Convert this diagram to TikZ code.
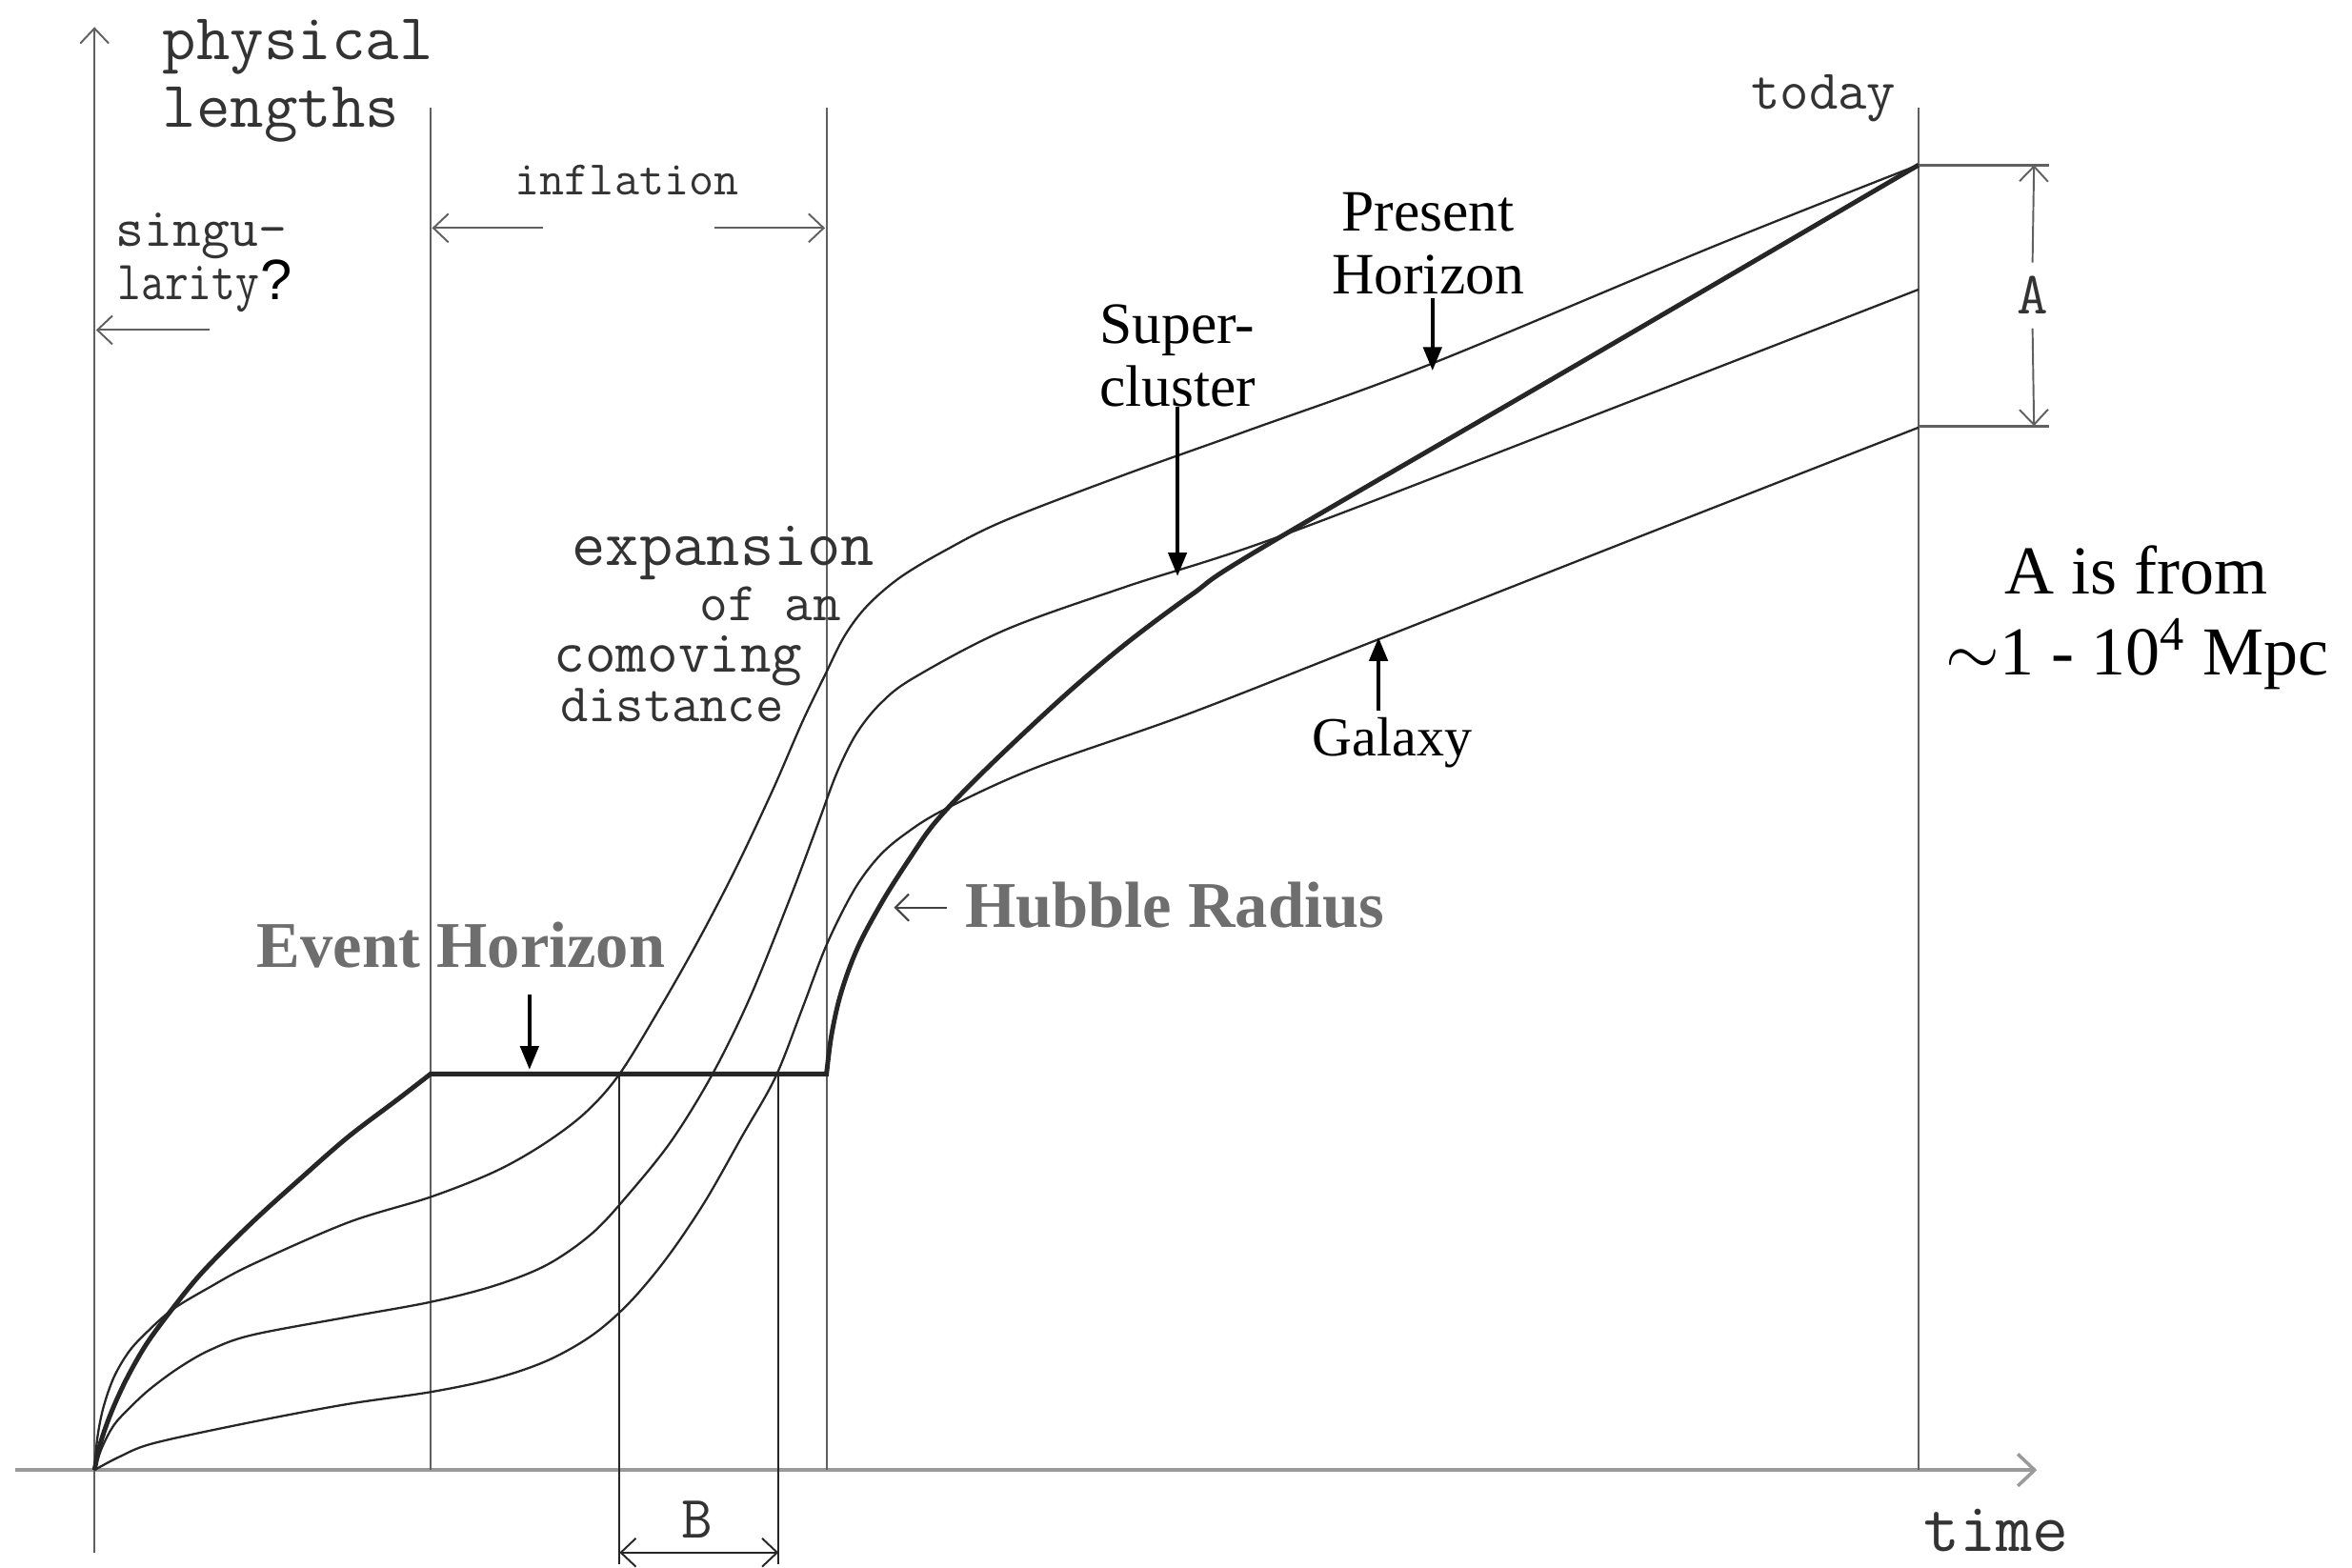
\documentclass[tikz,border=0pt]{standalone}
\usepackage{fontspec}
\newfontfamily\annfont{Liberation Serif}
\newfontfamily\qfont{Liberation Sans}
\usetikzlibrary{arrows.meta}
\definecolor{origtext}{HTML}{333333}
\definecolor{curvecol}{HTML}{262626}
\definecolor{vlinecol}{HTML}{606060}
\definecolor{axisgrey}{HTML}{9A9A9A}
\definecolor{labgrey}{HTML}{6E6E6E}
\newcommand\ttfs[1]{\ttfamily\fontsize{#1}{#1}\selectfont}
\newcommand\anfs[1]{\annfont\fontsize{#1}{#1}\selectfont}
\begin{document}
\begin{tikzpicture}[x=0.015746cm,y=-0.015746cm,
  vline/.style={draw=vlinecol, line width=0.55pt},
  bline/.style={draw=curvecol, line width=0.55pt},
  xaxis/.style={draw=axisgrey, line width=1.3pt},
  barb/.style={-{Straight Barb[length=4.5pt,width=8.5pt]}},
  dbarb/.style={{Straight Barb[length=4.5pt,width=8.5pt]}-{Straight Barb[length=4.5pt,width=8.5pt]}},
  thincurve/.style={draw=curvecol, line width=0.65pt},
  thickcurve/.style={draw=curvecol, line width=1.4pt, line join=miter},
  brk/.style={draw=vlinecol, line width=0.9pt},
  annarrow/.style={draw=black, line width=1pt, -{Triangle[length=7pt,width=5.5pt]}},
  orig/.style={text=origtext, inner sep=0pt},
  ann/.style={text=black, inner sep=0pt},
  boldlab/.style={text=labgrey, inner sep=0pt, font=\annfont\bfseries\fontsize{19.5}{20}\selectfont},
]
\useasboundingbox (0,0) rectangle (1568,1045);

% ---- coordinates
\coordinate (O) at (63,980);
\coordinate (ybot) at (63,1035);
\coordinate (ytop) at (63,18);
\coordinate (xleft) at (10,980);
\coordinate (xright) at (1358,980);
\coordinate (v1t) at (287,72);  \coordinate (v1b) at (287,980);
\coordinate (v2t) at (551,72);  \coordinate (v2b) at (551,980);
\coordinate (v3t) at (1279,72); \coordinate (v3b) at (1279,980);
\coordinate (Bl) at (413,716);  \coordinate (Blb) at (413,1043);
\coordinate (Br) at (519,716);  \coordinate (Brb) at (519,1043);
\coordinate (BarL) at (413,1035); \coordinate (BarR) at (519,1035);
\coordinate (Ae1) at (1279,110); \coordinate (Ae1r) at (1366,110);
\coordinate (Ae2) at (1279,284); \coordinate (Ae2r) at (1366,284);
\coordinate (Atop) at (1356,110); \coordinate (Abot) at (1356,284);
\coordinate (infLs) at (362,152); \coordinate (infLe) at (288,152);
\coordinate (infRs) at (476,152); \coordinate (infRe) at (550,152);
\coordinate (sgs) at (140,220); \coordinate (sge) at (64,220);

% ---- axes and epoch lines
\draw[xaxis, -{Straight Barb[length=5pt,width=9.5pt,line width=1pt]}] (xleft) -- (xright);
\draw[vline, barb] (ybot) -- (ytop);
\draw[vline] (v1t) -- (v1b);
\draw[vline] (v2t) -- (v2b);
\draw[vline] (v3t) -- (v3b);
\draw[bline] (Bl) -- (Blb);
\draw[bline] (Br) -- (Brb);
\draw[bline, dbarb] (BarL) -- (BarR);

% ---- comoving curves
\draw[thincurve] plot[smooth, tension=0.55] coordinates {
 (63,980) (65,958) (69,938) (76,918) (86,901) (98,888) (115,873) (140,858)
 (168,843) (232,815) (287,798) (330,781) (362,763) (390,742) (413,716)
 (440,672) (465,628) (490,580) (515,527) (535,481) (550,450) (563,424)
 (578,404) (600,385) (630,367) (670,347) (751,316) (832,287) (953,243)
 (1143,164) (1279,110)};
\draw[thincurve] plot[smooth, tension=0.55] coordinates {
 (63,980) (68,965) (76,950) (87,938) (100,926) (119,912) (140,900) (168,890)
 (232,878) (287,868) (330,857) (365,843) (395,822) (420,795) (448,760)
 (475,716) (500,665) (527,598) (545,550) (558,515) (571,489) (587,469)
 (609,452) (670,420) (751,391) (852,358) (1060,278) (1279,193)};
\draw[thincurve] plot[smooth, tension=0.55] coordinates {
 (63,980) (80,971) (103,962) (168,948) (232,936) (287,928) (330,919)
 (365,907) (395,890) (420,868) (445,838) (470,801) (495,757) (517,718)
 (535,672) (551,630) (569,594) (585,572) (602,557) (629,540) (690,512)
 (792,476) (917,427) (1100,355) (1279,285)};

% ---- event horizon + Hubble radius
\draw[thickcurve] plot[smooth, tension=0.55] coordinates {
 (63,980) (67,962) (74,942) (84,920) (97,897) (113,875) (135,848) (168,815)
 (200,786) (232,758) (265,733) (287,716)}
 -- plot[smooth, tension=0.55] coordinates {
 (551,716) (554,692) (559,668) (566,646) (575,625) (590,598) (606,573)
 (622,550) (645,525) (678,493) (715,459) (752,428) (795,396) (840,366)
 (1060,238) (1279,110)};

% ---- A bracket
\draw[brk] (Ae1) -- (Ae1r);
\draw[brk] (Ae2) -- (Ae2r);
\node[orig, font=\ttfs{18}, inner ysep=4pt] (Alab) at (1355,197) {A};
\draw[vline, barb] (Alab.north) -- (Atop);
\draw[vline, barb] (Alab.south) -- (Abot);

% ---- original labels
\node[orig, font=\ttfs{19.6}, anchor=base west] (phys) at (108,40) {physical};
\node[orig, font=\ttfs{19.6}, anchor=base west] (lens) at (108,85) {lengths};
\node[orig, font=\ttfs{14.4}, anchor=base west] (infl) at (343,130) {inflation};
\draw[vline, barb] (infLs) -- (infLe);
\draw[vline, barb] (infRs) -- (infRe);
\node[orig, font=\ttfs{16.5}, anchor=base west] (sing) at (77,164) {singu–};
\node[orig, font=\ttfs{16.5}, anchor=base west] (lar) at (78,200) {\scalebox{0.83}[1]{larity}};
\node[ann, font=\qfont\fontsize{17}{17}\selectfont, anchor=base west] (qm) at (lar.base east) {?};
\draw[vline, barb] (sgs) -- (sge);
\node[orig, font=\ttfs{16.8}, anchor=base west] (today) at (1167,73) {today};
\node[orig, font=\ttfs{21}, anchor=base west] (time) at (1282,1034) {time};
\node[orig, font=\ttfs{18}] (Blab) at (465,1013) {B};
\node[orig, font=\ttfs{19.5}, anchor=base west] (exp1) at (381,377) {expansion};
\node[orig, font=\ttfs{16.4}, anchor=base west] (exp2) at (466,414) {of an};
\node[orig, font=\ttfs{18}, anchor=base west] (exp3) at (369,448) {comoving};
\node[orig, font=\ttfs{16.2}, anchor=base west] (exp4) at (373,481) {distance};

% ---- annotations
\node[ann, font=\anfs{17.5}, anchor=base] (pres1) at (952,154) {Present};
\node[ann, font=\anfs{17.5}, anchor=base] (pres2) at (952,196) {Horizon};
\coordinate (phs) at (955,199); \coordinate (phe) at (955,247);
\draw[annarrow] (phs) -- (phe);
\node[ann, font=\anfs{17.5}, anchor=base] (sup1) at (785,229) {Super-};
\node[ann, font=\anfs{17.5}, anchor=base] (sup2) at (785,271) {cluster};
\coordinate (scs) at (785,271); \coordinate (sce) at (785,384);
\draw[annarrow] (scs) -- (sce);
\node[ann, font=\anfs{16.5}, anchor=base] (gal) at (928,504) {Galaxy};
\coordinate (gas) at (919,474); \coordinate (gae) at (919,425);
\draw[annarrow] (gas) -- (gae);
\node[boldlab, anchor=base west] (eh) at (171,645) {Event Horizon};
\coordinate (ehs) at (353,663); \coordinate (ehe) at (353,713);
\draw[annarrow] (ehs) -- (ehe);
\node[boldlab, anchor=base west] (hr) at (643,618) {Hubble Radius};
\coordinate (hrs) at (631,605); \coordinate (hre) at (596,605);
\draw[draw=labgrey!60!black, line width=0.6pt, -{Straight Barb[length=4pt,width=8pt]}] (hrs) -- (hre);
\node[ann, font=\anfs{20.5}, anchor=base] (ais1) at (1424,396) {A is from};
\node[ann, font=\anfs{20.5}, anchor=base] (ais2) at (1425,450) {$\sim$1 - 10\textsuperscript{4} Mpc};
\end{tikzpicture}
\end{document}
